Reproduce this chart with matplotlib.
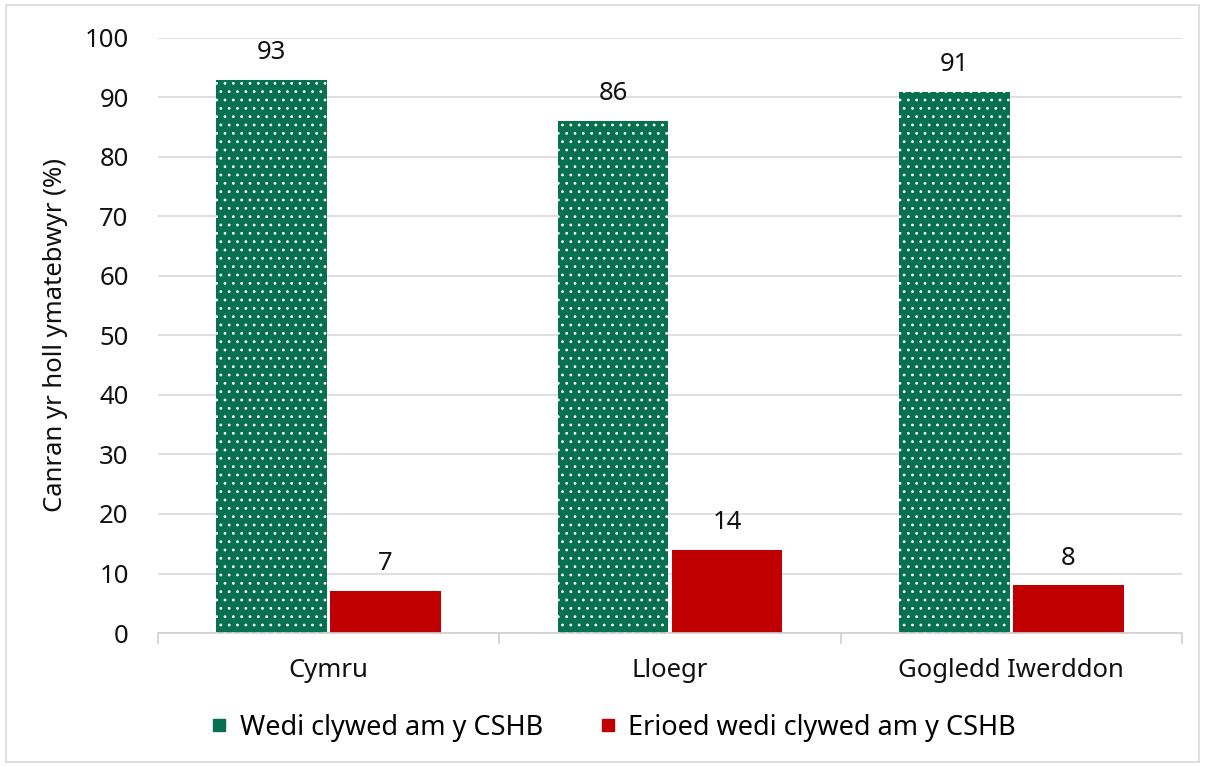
import numpy as np
from matplotlib import pyplot as plt
from matplotlib.lines import Line2D
from matplotlib.patches import Rectangle

plt.rcParams['font.family'] = ['Noto Sans', 'DejaVu Sans']
plt.rcParams['hatch.linewidth'] = 0.8

categories = ['Cymru', 'Lloegr', 'Gogledd Iwerddon']
heard = [93, 86, 91]
never_heard = [7, 14, 8]
series_names = ['Wedi clywed am y CSHB', 'Erioed wedi clywed am y CSHB']

green = '#07714f'
red = '#c00000'
txt = '#111111'

fig = plt.figure(figsize=(12.05, 7.67), dpi=100)
ax = fig.add_axes([0.131, 0.1747, 0.850, 0.7758])

x = np.arange(len(categories))
w = 0.323
off = 0.167
b1 = ax.bar(x - off, heard, w, color=green, edgecolor='white', linewidth=0, hatch='..')
b2 = ax.bar(x + off, never_heard, w, color=red, linewidth=0)

# value labels above the bars
for bars, vals in [(b1, heard), (b2, never_heard)]:
    for r, v in zip(bars, vals):
        ax.text(r.get_x() + r.get_width() / 2, v + 4.6, str(v),
                ha='center', va='center', fontsize=18.5, color=txt)

ax.set_xlim(-0.5, len(categories) - 0.5)
ax.set_ylim(0, 100)
ax.set_yticks(range(0, 101, 10))
ax.yaxis.grid(True, color='#d9d9d9', linewidth=1.2)
ax.set_axisbelow(True)
for s in ['top', 'right', 'left']:
    ax.spines[s].set_visible(False)
ax.spines['bottom'].set_color('#d0d0d0')
ax.spines['bottom'].set_linewidth(1.2)
ax.tick_params(axis='y', length=0, pad=21, labelsize=18.5, labelcolor=txt)
ax.set_xticks(x)
ax.set_xticklabels(categories)
ax.tick_params(axis='x', length=0, pad=18, labelsize=18.5, labelcolor=txt)
ax.set_xticks(np.arange(-0.5, len(categories), 1), minor=True)
ax.tick_params(axis='x', which='minor', length=8, color='#d0d0d0', width=1.2)
ax.set_ylabel('Canran yr holl ymatebwyr (%)', fontsize=18.5, color=txt, labelpad=12)

handles = [Line2D([], [], marker='s', linestyle='none', color=green, markersize=9),
           Line2D([], [], marker='s', linestyle='none', color=red, markersize=9)]
fig.legend(handles, series_names, loc='center', bbox_to_anchor=(0.508, 0.051), ncol=2,
           frameon=False, fontsize=19.5, handlelength=0.8, handletextpad=0.35,
           columnspacing=2.0)

fig.patches.append(Rectangle((0.005, 0.006), 0.99, 0.988, transform=fig.transFigure,
                             fill=False, edgecolor='#d9d9d9', linewidth=1.2))

plt.savefig('out.png')
